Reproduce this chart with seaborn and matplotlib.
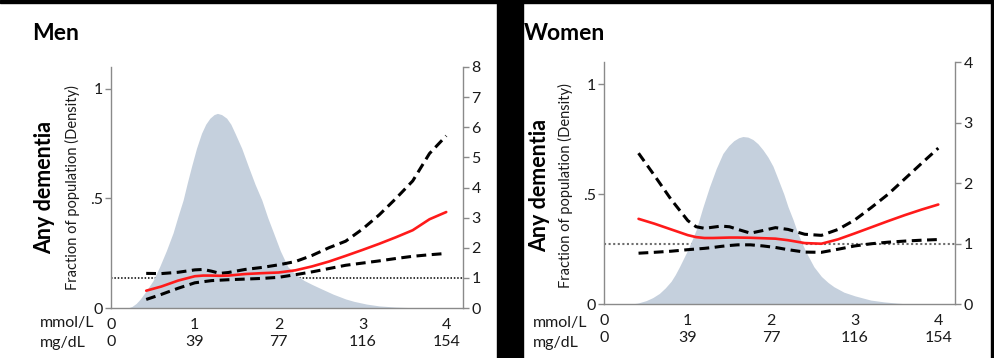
import matplotlib
matplotlib.use("Agg")
import matplotlib.pyplot as plt
from matplotlib.patches import Rectangle
import seaborn as sns

# Men: spline estimate and 95% CI (left axis), density (right axis)
men_x = [0.42, 0.6, 0.8, 1.0, 1.1, 1.2, 1.3, 1.4, 1.6, 1.8, 2.0, 2.2, 2.4, 2.6, 2.8, 3.0, 3.2, 3.4, 3.6, 3.8, 4.0]
men_est = [0.079, 0.098, 0.125, 0.145, 0.148, 0.148, 0.147, 0.148, 0.155, 0.159, 0.162, 0.172, 0.19, 0.212, 0.238,
           0.265, 0.293, 0.323, 0.355, 0.405, 0.438]
men_upper = [0.158, 0.157, 0.163, 0.174, 0.176, 0.168, 0.158, 0.162, 0.176, 0.185, 0.197, 0.212, 0.24, 0.275, 0.305,
             0.36, 0.425, 0.50, 0.58, 0.705, 0.786]
men_lower = [0.039, 0.062, 0.09, 0.115, 0.12, 0.125, 0.127, 0.129, 0.132, 0.135, 0.14, 0.152, 0.165, 0.18, 0.195,
             0.205, 0.215, 0.226, 0.236, 0.243, 0.249]
men_dens_x = [0.2, 0.25, 0.3, 0.35, 0.41, 0.5, 0.58, 0.66, 0.74, 0.8, 0.86, 0.91, 0.96, 1.02, 1.08, 1.13, 1.18,
              1.23, 1.27, 1.32, 1.38, 1.43, 1.48, 1.56, 1.64, 1.72, 1.80, 1.87, 1.94, 2.02, 2.11, 2.2, 2.3, 2.4,
              2.5, 2.65, 2.8, 2.9, 3.05, 3.2, 3.4, 3.6, 3.8, 4.0]
men_dens = [0, 0.05, 0.15, 0.3, 0.53, 0.9, 1.37, 1.9, 2.49, 3.05, 3.58, 4.15, 4.69, 5.3, 5.8, 6.1, 6.3,
            6.42, 6.46, 6.42, 6.3, 6.1, 5.8, 5.3, 4.69, 4.1, 3.58, 3.0, 2.49, 1.9, 1.37, 1.12, 0.92, 0.78,
            0.65, 0.46, 0.3, 0.22, 0.13, 0.07, 0.03, 0.01, 0, 0]

# Women
women_x = [0.41, 0.6, 0.8, 1.0, 1.1, 1.2, 1.3, 1.4, 1.5, 1.6, 1.75, 1.9, 2.05, 2.2, 2.4, 2.6, 2.8, 3.0, 3.2, 3.4,
           3.6, 3.8, 4.0]
women_est = [0.388, 0.366, 0.34, 0.314, 0.305, 0.301, 0.301, 0.302, 0.303, 0.303, 0.302, 0.300, 0.298, 0.291, 0.278,
             0.275, 0.295, 0.322, 0.35, 0.378, 0.405, 0.43, 0.453]
women_upper = [0.686, 0.585, 0.476, 0.38, 0.352, 0.345, 0.35, 0.355, 0.352, 0.34, 0.323, 0.335, 0.348, 0.34, 0.318,
               0.313, 0.34, 0.383, 0.44, 0.50, 0.57, 0.64, 0.709]
women_lower = [0.232, 0.236, 0.241, 0.248, 0.251, 0.254, 0.258, 0.263, 0.267, 0.27, 0.27, 0.265, 0.258, 0.248, 0.237,
               0.236, 0.25, 0.265, 0.275, 0.282, 0.287, 0.291, 0.294]
women_dens_x = [0.3, 0.4, 0.5, 0.58, 0.66, 0.73, 0.8, 0.85, 0.9, 0.95, 1.0, 1.05, 1.1, 1.18, 1.26, 1.34, 1.42,
                1.49, 1.55, 1.61, 1.66, 1.72, 1.78, 1.84, 1.9, 1.96, 2.02, 2.08, 2.15, 2.2, 2.26, 2.31, 2.37,
                2.44, 2.51, 2.6, 2.68, 2.75, 2.87, 3.0, 3.19, 3.35, 3.5, 3.7]
women_dens = [0, 0.02, 0.06, 0.11, 0.18, 0.27, 0.38, 0.49, 0.62, 0.76, 0.9, 1.06, 1.23, 1.6, 1.94, 2.24, 2.49,
              2.62, 2.7, 2.75, 2.77, 2.76, 2.72, 2.65, 2.55, 2.43, 2.28, 2.07, 1.82, 1.61, 1.4, 1.2, 1.0,
              0.8, 0.62, 0.46, 0.36, 0.29, 0.2, 0.14, 0.07, 0.04, 0.02, 0]

mmol_ticks = [0, 1, 2, 3, 4]
mgdl_labels = ['0', '39', '77', '116', '154']
left_ticks = [0, 0.5, 1]
left_labels = ['0', '.5', '1']

sns.set_style("white")
plt.rcParams['font.family'] = ['Lato', 'DejaVu Sans']

FILL = '#c5d0dd'
SPINE = '#8a8a8a'
TXT = '#1a1a1a'

W, H = 995, 358
fig = plt.figure(figsize=(W / 100, H / 100), dpi=100)


def px(x0, y0, x1, y1):
    return [x0 / W, 1 - y1 / H, (x1 - x0) / W, (y1 - y0) / H]


def panel(rect, x, est, upper, lower, dens_x, dens, dmax, dot_color, dot_lw):
    ax = fig.add_axes(rect)
    ax2 = ax.twinx()
    ax.set_zorder(ax2.get_zorder() + 1)
    ax.patch.set_visible(False)

    # density and reference line on the right axis
    ax2.fill_between(dens_x, 0, dens, color=FILL, linewidth=0, zorder=2)
    ax2.axhline(1, color=dot_color, linestyle=(0, (1, 1.2)), linewidth=dot_lw, zorder=1)
    ax2.set_ylim(0, dmax)
    ax2.set_yticks(range(0, dmax + 1))

    sns.lineplot(x=x, y=upper, ax=ax, color='black', linestyle=(0, (3.2, 1.8)), linewidth=2.2)
    sns.lineplot(x=x, y=lower, ax=ax, color='black', linestyle=(0, (3.2, 1.8)), linewidth=2.2)
    sns.lineplot(x=x, y=est, ax=ax, color='#ff1a1a', linewidth=1.9)

    ax.set_xlim(0, 4.2)
    ax.set_ylim(0, 1.1)
    ax.set_yticks(left_ticks)
    ax.set_yticklabels(left_labels)
    ax.set_xticks(mmol_ticks)
    ax.set_xticklabels([f'{m}\n{g}' for m, g in zip(mmol_ticks, mgdl_labels)])
    for lbl in ax.get_xticklabels():
        lbl.set_linespacing(1.3)

    for a in (ax, ax2):
        a.set_xlabel('')
        a.set_ylabel('')
        a.spines['top'].set_visible(False)
        for s in ('left', 'right', 'bottom'):
            a.spines[s].set_color(SPINE)
            a.spines[s].set_linewidth(1.0)
        a.tick_params(length=4, width=1, color=SPINE, labelcolor=TXT, labelsize=11.5, pad=2)
    ax.spines['right'].set_visible(False)
    ax2.spines['left'].set_visible(False)
    ax2.spines['bottom'].set_visible(False)
    ax.tick_params(axis='x', pad=3)
    return ax


panel(px(111, 67, 463, 308), men_x, men_est, men_upper, men_lower, men_dens_x, men_dens, 8, 'black', 1.1)
panel(px(604.3, 62, 955, 304.3), women_x, women_est, women_upper, women_lower, women_dens_x, women_dens, 4,
      '#6e6e6e', 1.5)

# titles and axis captions
fig.text(32 / W, 1 - 33 / H, 'Men', fontsize=16.5, fontweight='bold', va='center', ha='left', color='black')
fig.text(524 / W, 1 - 33 / H, 'Women', fontsize=16.5, fontweight='bold', va='center', ha='left', color='black')
for cx, fx, cy in ((45, 72, 188), (540, 565, 186)):
    fig.text(cx / W, 1 - cy / H, 'Any dementia', rotation=90, fontsize=15.5, fontweight='bold',
             ha='center', va='center', color='black')
    fig.text(fx / W, 1 - cy / H, 'Fraction of population (Density)', rotation=90, fontsize=10.5,
             ha='center', va='center', color=TXT)
for lx in (40, 533):
    fig.text(lx / W, 1 - 323 / H, 'mmol/L', fontsize=11.5, ha='left', va='center', color=TXT)
    fig.text(lx / W, 1 - 343 / H, 'mg/dL', fontsize=11.5, ha='left', va='center', color=TXT)

# black frame pieces from the source image
fig.patches.append(Rectangle((0, 1 - 2.5 / H), 1, 2.5 / H, transform=fig.transFigure, color='black', zorder=10))
fig.patches.append(Rectangle((497 / W, 0), 26 / W, 1, transform=fig.transFigure, color='black', zorder=10))
fig.patches.append(Rectangle((991 / W, 0), 4 / W, 1, transform=fig.transFigure, color='black', zorder=10))

fig.savefig('out.png', dpi=100)
